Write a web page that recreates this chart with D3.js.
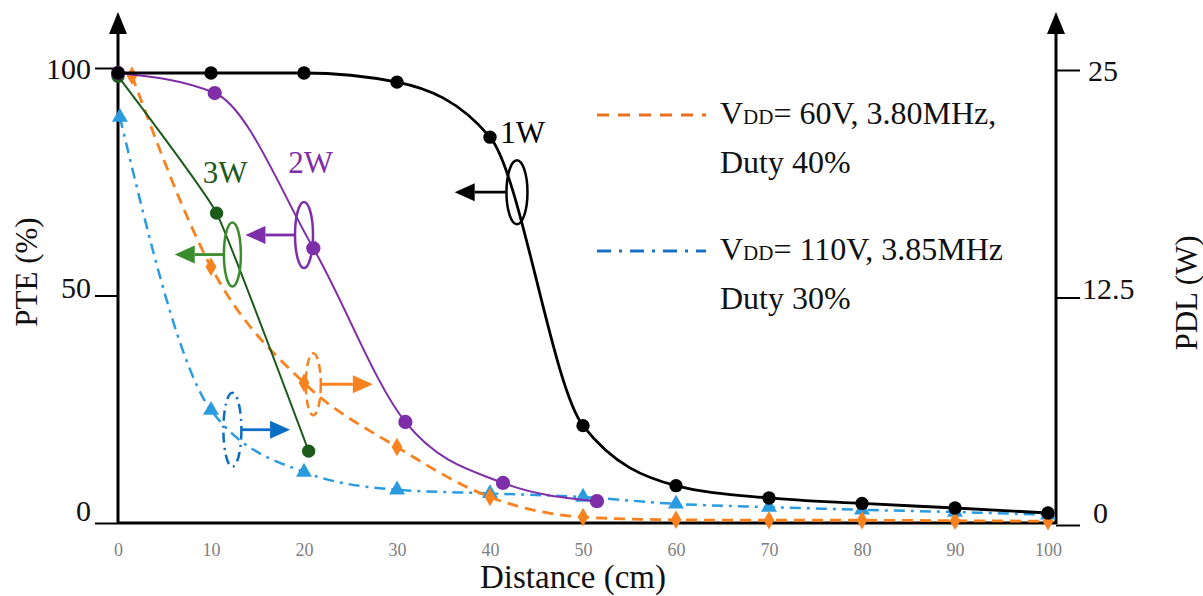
<!DOCTYPE html>
<html lang="en">
<head>
<meta charset="utf-8">
<title>PTE and PDL versus distance</title>
<script src="https://d3js.org/d3.v7.min.js"></script>
<style>
  body { margin: 0; background: #fff; }
  svg text { font-family: "Liberation Serif", "DejaVu Serif", serif; }
</style>
</head>
<body>
<svg id="chart"></svg>
<script>
    // distance (cm) and PTE (%)
    const dist1W = [0, 10, 20, 30, 40, 50, 60, 70, 80, 90, 100];
    const pte1W  = [98.9, 98.9, 98.9, 96.9, 84.8, 21.4, 8.2, 5.5, 4.3, 3.3, 2.2];

    const dist2W = [0, 10.4, 21, 30.9, 41.4, 51.5];
    const pte2W  = [98.9, 94.5, 60.4, 22.2, 8.8, 4.8];

    const dist3W = [0, 10.6, 20.5];
    const pte3W  = [98.2, 68.1, 15.8];

    const dist60V = [1.5, 10, 20, 30, 40, 50, 60, 70, 80, 90, 100];
    const pte60V  = [98.3, 56.3, 30.8, 16.7, 5.7, 1.3, 0.7, 0.6, 0.6, 0.5, 0.4];

    const dist110V = [0.2, 10, 20, 30, 40, 50, 60, 70, 80, 90, 100];
    const pte110V  = [89.2, 24.8, 11.2, 7.3, 6.5, 5.7, 4.2, 3.5, 2.9, 2.4, 1.8];

    const xTicks = [0, 10, 20, 30, 40, 50, 60, 70, 80, 90, 100];
    const pteTicks = [0, 50, 100];
    const pdlTicks = [0, 12.5, 25];

    const width = 1203, height = 596;

    let svg = d3.select("#chart")
        .attr("width", width)
        .attr("height", height);

    let x = d3.scaleLinear().domain([0, 100]).range([118, 1048]);
    let yL = d3.scaleLinear().domain([0, 100]).range([523, 68]);
    let yR = d3.scaleLinear().domain([0, 25]).range([525, 70]);

    const xAxisRight = 1056;

    // ---- axes ----
    let axes = svg.append("g").attr("id", "axes");

    let leftAxis = axes.append("g")
        .attr("transform", `translate(${x(0)},0)`)
        .call(d3.axisLeft(yL).tickValues(pteTicks).tickSize(23).tickPadding(4).tickFormat(d => d));
    leftAxis.select(".domain").remove();
    leftAxis.selectAll("line").attr("stroke", "#000").attr("stroke-width", 2);
    leftAxis.selectAll("text")
        .attr("font-size", 30).attr("fill", "#111")
        .attr("font-family", "Liberation Serif")
        .attr("dy", (d, i) => [-13, -9, 0][i] + 10.5 + "px");

    let rightAxis = axes.append("g")
        .attr("transform", `translate(${xAxisRight},0)`)
        .call(d3.axisRight(yR).tickValues(pdlTicks).tickSize(24).tickPadding(4).tickFormat(d => d));
    rightAxis.select(".domain").remove();
    rightAxis.selectAll("line").attr("stroke", "#000").attr("stroke-width", 2);
    rightAxis.selectAll("text")
        .attr("font-size", 30).attr("fill", "#111")
        .attr("font-family", "Liberation Serif")
        .attr("x", (d, i) => [37, 26, 32][i])
        .attr("dy", (d, i) => [-13, -10, 0][i] + 10.5 + "px");

    let bottomAxis = axes.append("g")
        .attr("transform", `translate(0,${yL(0)})`)
        .call(d3.axisBottom(x).tickValues(xTicks).tickSize(0).tickPadding(20));
    bottomAxis.select(".domain").remove();
    bottomAxis.selectAll("text")
        .attr("font-size", 18).attr("fill", "#808080")
        .attr("font-family", "Liberation Serif");

    // axis lines with arrows
    axes.append("line").attr("x1", x(0)).attr("x2", x(0)).attr("y1", 30).attr("y2", yL(0) + 1)
        .attr("stroke", "#000").attr("stroke-width", 3);
    axes.append("line").attr("x1", xAxisRight).attr("x2", xAxisRight).attr("y1", 30).attr("y2", yL(0) + 1)
        .attr("stroke", "#000").attr("stroke-width", 3);
    axes.append("line").attr("x1", x(0)).attr("x2", xAxisRight).attr("y1", yL(0)).attr("y2", yL(0))
        .attr("stroke", "#000").attr("stroke-width", 3);
    [x(0), xAxisRight].forEach(ax => {
        axes.append("path")
            .attr("d", `M${ax},12 L${ax - 9},34 L${ax + 9},34 Z`)
            .attr("fill", "#000");
    });

    // axis titles
    svg.append("text")
        .attr("transform", "translate(37,272) rotate(-90)")
        .attr("text-anchor", "middle")
        .attr("font-size", 31).attr("fill", "#111")
        .text("PTE (%)");
    svg.append("text")
        .attr("transform", "translate(1197,293) rotate(-90)")
        .attr("text-anchor", "middle")
        .attr("font-size", 31).attr("fill", "#111")
        .text("PDL (W)");
    svg.append("text")
        .attr("x", 573).attr("y", 588)
        .attr("text-anchor", "middle")
        .attr("font-size", 33).attr("fill", "#111")
        .text("Distance (cm)");

    // ---- series ----
    function makeRows(xs, ys) {
        return xs.map((d, i) => ({dist: d, pte: ys[i]}));
    }

    let series = [
        {name: "110V", rows: makeRows(dist110V, pte110V), color: "#2b9be0", width: 2.5, dash: "11,6,3,6", mark: "triangle", size: 110, curve: d3.curveMonotoneX},
        {name: "60V", rows: makeRows(dist60V, pte60V), color: "#f7821f", width: 2.8, dash: "11,7", mark: "diamond", size: 100, curve: d3.curveMonotoneX},
        {name: "3W", rows: makeRows(dist3W, pte3W), color: "#1c5a1a", width: 2, dash: null, mark: "circle", size: 140, curve: d3.curveCardinal.tension(0.65)},
        {name: "2W", rows: makeRows(dist2W, pte2W), color: "#7d2ea8", width: 2, dash: null, mark: "circle", size: 160, curve: d3.curveMonotoneX},
        {name: "1W", rows: makeRows(dist1W, pte1W), color: "#000000", width: 2.8, dash: null, mark: "circle", size: 140, curve: d3.curveMonotoneX}
    ];

    const symbols = {circle: d3.symbolCircle, diamond: d3.symbolDiamond, triangle: d3.symbolTriangle};

    let plot = svg.append("g").attr("id", "series");
    series.forEach(s => {
        let line = d3.line()
            .x(d => x(d.dist))
            .y(d => yL(d.pte))
            .curve(s.curve);
        let g = plot.append("g").attr("class", "s-" + s.name);
        g.append("path")
            .datum(s.rows)
            .attr("d", line)
            .attr("fill", "none")
            .attr("stroke", s.color)
            .attr("stroke-width", s.width)
            .attr("stroke-dasharray", s.dash);
        g.selectAll("path.mark")
            .data(s.rows)
            .enter().append("path")
            .attr("class", "mark")
            .attr("transform", d => `translate(${x(d.dist)},${yL(d.pte)})`)
            .attr("d", d3.symbol().type(symbols[s.mark]).size(s.size))
            .attr("fill", s.color);
    });

    // ---- annotations: ellipse around curve + arrow to its axis ----
    const notes = [
        {cx: 42.9, cy: 72.7, rx: 10.5, ry: 32, tip: 36.2, color: "#000", dash: null},
        {cx: 20.0, cy: 63.3, rx: 9, ry: 33, tip: 13.7, color: "#7d2ea8", dash: null},
        {cx: 12.3, cy: 59.0, rx: 8.5, ry: 32, tip: 6.1, color: "#3a8c2c", dash: null},
        {cx: 21.0, cy: 30.5, rx: 7.5, ry: 31, tip: 27.4, color: "#f7821f", dash: "9,5"},
        {cx: 12.3, cy: 20.5, rx: 9, ry: 37, tip: 18.5, color: "#0b6ec5", dash: "10,5,2,5"}
    ];

    let ann = svg.append("g").attr("id", "annotations");
    notes.forEach(n => {
        let cx = x(n.cx), cy = yL(n.cy), tx = x(n.tip);
        ann.append("ellipse")
            .attr("cx", cx).attr("cy", cy).attr("rx", n.rx).attr("ry", n.ry)
            .attr("fill", "none").attr("stroke", n.color).attr("stroke-width", 2.5)
            .attr("stroke-dasharray", n.dash);
        let dir = tx < cx ? -1 : 1;
        let start = cx + dir * n.rx;
        let headBase = tx - dir * 20;
        ann.append("line")
            .attr("x1", start).attr("x2", headBase).attr("y1", cy).attr("y2", cy)
            .attr("stroke", n.color).attr("stroke-width", 2.8);
        ann.append("path")
            .attr("d", `M${tx},${cy} L${headBase},${cy - 9} L${headBase},${cy + 9} Z`)
            .attr("fill", n.color);
    });

    // power labels
    const powerLabels = ["1W", "2W", "3W"];
    const labelPos = [[41.1, 86.0], [18.3, 79.3], [9.1, 77.1]];
    const labelColors = ["#000", "#7d2ea8", "#1c5a1a"];
    powerLabels.forEach((t, i) => {
        ann.append("text")
            .attr("x", x(labelPos[i][0])).attr("y", yL(labelPos[i][1]))
            .attr("dy", "0.35em")
            .attr("font-size", 31)
            .attr("fill", labelColors[i])
            .text(t);
    });

    // ---- legend ----
    const legendLines = [
        {color: "#e8701e", dash: "12,9", y: 115, main: "= 60V, 3.80MHz,", duty: "Duty 40%"},
        {color: "#1a72c8", dash: "14,8,3,8", y: 251, main: "= 110V, 3.85MHz", duty: "Duty 30%"}
    ];
    let legend = svg.append("g").attr("id", "legend");
    legendLines.forEach(l => {
        legend.append("line")
            .attr("x1", 597).attr("x2", 706).attr("y1", l.y).attr("y2", l.y)
            .attr("stroke", l.color).attr("stroke-width", 3)
            .attr("stroke-dasharray", l.dash);
        let t = legend.append("text")
            .attr("x", 720).attr("y", l.y + 9)
            .attr("font-size", 32).attr("fill", "#111");
        t.append("tspan").text("V");
        t.append("tspan").attr("font-size", 21).text("DD");
        t.append("tspan").text(l.main);
        legend.append("text")
            .attr("x", 720).attr("y", l.y + 58)
            .attr("font-size", 32).attr("fill", "#111")
            .text(l.duty);
    });
</script>
</body>
</html>
